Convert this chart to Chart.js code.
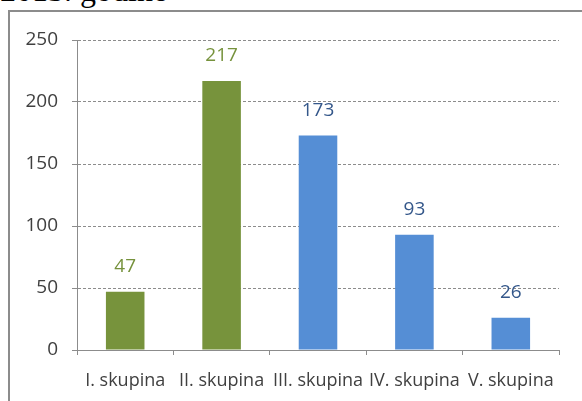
<!DOCTYPE html>
<html>
<head>
<meta charset="utf-8">
<script src="https://cdn.jsdelivr.net/npm/chart.js@4.4.0/dist/chart.umd.min.js"></script>
<style>
    html, body { margin: 0; padding: 0; background: #fff; overflow: hidden; }
    #wrap { position: relative; width: 582px; height: 401px; }
    #heading {
        position: absolute; left: 0; top: -26px;
        font: 32px/32px "Liberation Serif", serif; color: #000; white-space: nowrap;
    }
    #frame {
        position: absolute; left: 8px; top: 10px; width: 620px; height: 440px;
        border: 2px solid #8c8c8c; box-sizing: border-box;
    }
    #chart { position: absolute; left: 0; top: 0; }
</style>
</head>
<body>
<div id="wrap">
    <div id="heading">2013. godine</div>
    <div id="frame"></div>
    <canvas id="chart" width="582" height="401"></canvas>
</div>
<script>
// Data
const categories = ['I. skupina', 'II. skupina', 'III. skupina', 'IV. skupina', 'V. skupina'];
const counts = [47, 217, 173, 93, 26];
const yTicks = [0, 50, 100, 150, 200, 250];

// Colours per bar (first two green, rest blue)
const barColors = ['#77933c', '#77933c', '#558ed5', '#558ed5', '#558ed5'];
const labelColors = ['#76923c', '#76923c', '#34578a', '#34578a', '#34578a'];

const FONT = '"Open Sans", sans-serif';

// Value labels above the bars
const valueLabels = {
    id: 'valueLabels',
    afterDatasetsDraw(chart) {
        const ctx = chart.ctx;
        const meta = chart.getDatasetMeta(0);
        ctx.save();
        ctx.font = '19px ' + FONT;
        ctx.textAlign = 'center';
        ctx.textBaseline = 'middle';
        meta.data.forEach((bar, i) => {
            ctx.fillStyle = labelColors[i];
            ctx.fillText(String(counts[i]), bar.x, bar.y - 25);
        });
        ctx.restore();
    }
};

new Chart(document.getElementById('chart'), {
    type: 'bar',
    data: {
        labels: categories,
        datasets: [{
            data: counts,
            backgroundColor: barColors,
            borderWidth: 0,
            barPercentage: 0.4,
            categoryPercentage: 1
        }]
    },
    options: {
        responsive: false,
        animation: false,
        layout: { padding: { top: 40, right: 23, bottom: 0, left: 0 } },
        plugins: {
            legend: { display: false },
            tooltip: { enabled: false }
        },
        scales: {
            x: {
                grid: {
                    drawOnChartArea: false,
                    offset: true,
                    tickLength: 5,
                    tickColor: '#8c8c8c'
                },
                border: { color: '#8c8c8c' },
                ticks: {
                    color: '#404040',
                    font: { family: FONT, size: 18 },
                    padding: 15,
                    maxRotation: 0,
                    autoSkip: false
                },
                afterFit(scale) { scale.height = 51; }
            },
            y: {
                min: 0,
                max: 250,
                afterBuildTicks(scale) {
                    scale.ticks = yTicks.map(v => ({ value: v }));
                },
                grid: {
                    color: '#8c8c8c',
                    tickLength: 5,
                    tickColor: '#8c8c8c',
                    tickBorderDash: []
                },
                border: { color: '#8c8c8c', dash: [3, 2] },
                ticks: {
                    color: '#404040',
                    font: { family: FONT, size: 19 },
                    padding: 14
                },
                afterFit(scale) { scale.width = 77; }
            }
        }
    },
    plugins: [valueLabels]
});
</script>
</body>
</html>
